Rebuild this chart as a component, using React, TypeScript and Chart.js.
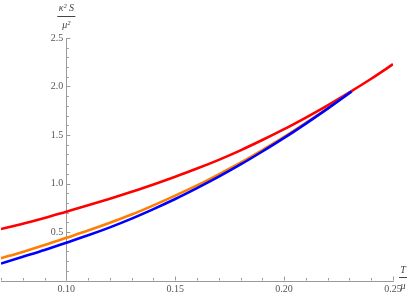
import React, { useEffect, useRef } from "react";
import { Chart, registerables } from "chart.js";

Chart.register(...registerables);

const redT = [0.07, 0.08, 0.09, 0.10, 0.11, 0.12, 0.13, 0.14, 0.15, 0.16, 0.17, 0.18, 0.19, 0.20, 0.21, 0.22, 0.23, 0.24, 0.25];
const redS = [0.53, 0.585, 0.645, 0.71, 0.775, 0.843, 0.915, 0.99, 1.07, 1.154, 1.244, 1.342, 1.448, 1.56, 1.68, 1.806, 1.94, 2.08, 2.23];

const orangeT = [0.07, 0.08, 0.09, 0.10, 0.11, 0.12, 0.13, 0.14, 0.15, 0.16, 0.17, 0.18, 0.19, 0.20, 0.21, 0.22, 0.231];
const orangeS = [0.23, 0.295, 0.365, 0.44, 0.515, 0.595, 0.68, 0.775, 0.875, 0.98, 1.095, 1.215, 1.345, 1.48, 1.625, 1.775, 1.95];

const blueT = [0.07, 0.08, 0.09, 0.10, 0.11, 0.12, 0.13, 0.14, 0.15, 0.16, 0.17, 0.18, 0.19, 0.20, 0.21, 0.22, 0.231];
const blueS = [0.175, 0.245, 0.315, 0.39, 0.466, 0.548, 0.638, 0.736, 0.84, 0.952, 1.07, 1.196, 1.33, 1.47, 1.618, 1.772, 1.95];

const xMajorTicks = [0.10, 0.15, 0.20, 0.25];
const xTickLabels = ["0.10", "0.15", "0.20", "0.25"];
const yMajorTicks = [0.5, 1.0, 1.5, 2.0, 2.5];
const yTickLabels = ["0.5", "1.0", "1.5", "2.0", "2.5"];

const X_MIN = 0.07;
const X_MAX = 0.25;
const Y_MIN = 0;
const Y_MAX = 2.5;
const Y_AXIS_AT = 0.10;
const X_AXIS_AT = 0;

const pts = (t: number[], s: number[]) => t.map((x, i) => ({ x, y: s[i] }));

const axesPlugin = {
  id: "mmaAxes",
  beforeDatasetsDraw(chart: any) {
    const { ctx } = chart;
    const xs = chart.scales.x;
    const ys = chart.scales.y;
    const ax = xs.getPixelForValue(Y_AXIS_AT);
    const ay = ys.getPixelForValue(X_AXIS_AT);
    ctx.save();
    ctx.strokeStyle = "#9a9a9a";
    ctx.lineWidth = 1;
    ctx.beginPath();
    ctx.moveTo(xs.left, Math.round(ay) + 0.5);
    ctx.lineTo(xs.right + 1, Math.round(ay) + 0.5);
    ctx.stroke();
    ctx.beginPath();
    ctx.moveTo(Math.round(ax) + 0.5, ys.top);
    ctx.lineTo(Math.round(ax) + 0.5, ay);
    ctx.stroke();
    for (let k = 7; k <= 25; k++) {
      const v = k / 100;
      const px = Math.round(xs.getPixelForValue(v)) + 0.5;
      const major = k % 5 === 0;
      const len = major ? 4 : 2.5;
      ctx.beginPath();
      ctx.moveTo(px, ay);
      ctx.lineTo(px, ay - len);
      ctx.stroke();
    }
    for (let k = 1; k <= 25; k++) {
      const v = k / 10;
      const py = Math.round(ys.getPixelForValue(v)) + 0.5;
      const major = k % 5 === 0;
      const len = major ? 4 : 2.5;
      ctx.beginPath();
      ctx.moveTo(ax, py);
      ctx.lineTo(ax + len, py);
      ctx.stroke();
    }
    ctx.fillStyle = "#555";
    ctx.font = "10px 'Liberation Serif', serif";
    ctx.textAlign = "center";
    ctx.textBaseline = "middle";
    xMajorTicks.forEach((v, i) => {
      ctx.fillText(xTickLabels[i], xs.getPixelForValue(v), ay + 9);
    });
    ctx.textAlign = "right";
    yMajorTicks.forEach((v, i) => {
      ctx.fillText(yTickLabels[i], ax - 3, ys.getPixelForValue(v));
    });
    ctx.fillStyle = "#444";
    ctx.textAlign = "center";
    ctx.font = "italic 10px 'Liberation Serif', serif";
    const cx = ax;
    ctx.fillText("κ² S", cx, 8);
    ctx.fillText("μ²", cx, 25);
    ctx.strokeStyle = "#444";
    ctx.beginPath();
    ctx.moveTo(cx - 9, 16.5);
    ctx.lineTo(cx + 9, 16.5);
    ctx.stroke();
    const lx = 403;
    ctx.fillText("T", lx, 270);
    ctx.fillText("μ", lx, 286);
    ctx.beginPath();
    ctx.moveTo(lx - 4, 277.5);
    ctx.lineTo(lx + 4, 277.5);
    ctx.stroke();
    ctx.restore();
  },
};

export default function App() {
  const ref = useRef<HTMLCanvasElement | null>(null);
  useEffect(() => {
    document.body.style.margin = "0";
    const canvas = ref.current;
    if (!canvas) return;
    const chart = new Chart(canvas, {
      type: "line",
      data: {
        datasets: [
          {
            label: "blue",
            data: pts(blueT, blueS),
            borderColor: "#0000ff",
            borderWidth: 2.6,
            pointRadius: 0,
            cubicInterpolationMode: "monotone",
            fill: false,
          },
          {
            label: "orange",
            data: pts(orangeT, orangeS),
            borderColor: "#ff8000",
            borderWidth: 2.6,
            pointRadius: 0,
            cubicInterpolationMode: "monotone",
            fill: false,
          },
          {
            label: "red",
            data: pts(redT, redS),
            borderColor: "#ff0000",
            borderWidth: 2.6,
            pointRadius: 0,
            cubicInterpolationMode: "monotone",
            fill: false,
          },
        ],
      },
      options: {
        animation: false,
        responsive: false,
        maintainAspectRatio: false,
        devicePixelRatio: 1,
        layout: { padding: { left: 1, right: 16, top: 38, bottom: 14.5 } },
        plugins: { legend: { display: false }, tooltip: { enabled: false } },
        scales: {
          x: { type: "linear", min: X_MIN, max: X_MAX, display: false },
          y: { type: "linear", min: Y_MIN, max: Y_MAX, display: false },
        },
      },
      plugins: [axesPlugin],
    });
    return () => chart.destroy();
  }, []);
  return (
    <canvas
      ref={ref}
      width={409}
      height={295}
      style={{ display: "block", width: 409, height: 295 }}
    />
  );
}
